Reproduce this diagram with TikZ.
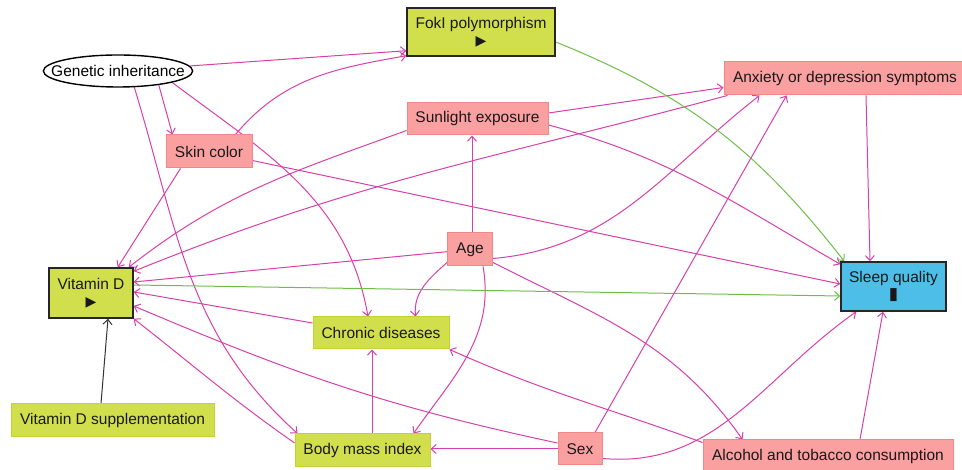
\documentclass[tikz,border=0pt]{standalone}
\usepackage{fontspec}
\setmainfont{Liberation Sans}
\newfontfamily\symfont{DejaVu Sans}
\usetikzlibrary{arrows.meta,shapes.geometric,backgrounds}
\definecolor{gfill}{RGB}{210,223,77}
\definecolor{gdraw}{RGB}{192,210,52}
\definecolor{pfill}{RGB}{250,160,160}
\definecolor{pdraw}{RGB}{242,135,135}
\definecolor{bfill}{RGB}{76,190,232}
\definecolor{mcol}{RGB}{214,64,170}
\definecolor{gcol}{RGB}{110,190,70}
\begin{document}
\begin{tikzpicture}[x=1pt,y=1pt,
 base/.style={rectangle,inner sep=0pt,font=\fontsize{15.5}{18}\selectfont,align=center,text=black!90},
 gbox/.style={base,fill=gfill,draw=gdraw,line width=1pt},
 gboxk/.style={base,fill=gfill,draw=black!85,line width=1.5pt},
 pbox/.style={base,fill=pfill,draw=pdraw,line width=1pt},
 bboxk/.style={base,fill=bfill,draw=black!85,line width=1.5pt},
 tipb/.style={-{Straight Barb[length=5pt,width=9pt]}},
 mline/.style={draw=mcol,line width=1pt,tipb},
 gline/.style={draw=gcol,line width=1pt,tipb},
 kline/.style={draw=black!80,line width=1pt,tipb},
]
\useasboundingbox (0,0) rectangle (962,470);
% nodes
\node[ellipse,draw=black,line width=1.4pt,fill=white,inner xsep=-14pt,inner ysep=0pt,minimum height=32pt,font=\fontsize{15.5}{18}\selectfont] (gen) at (118,399) {Genetic inheritance};
\node[gboxk,minimum width=148pt,minimum height=48pt] (fok) at (481,438) {FokI polymorphism\\[-1pt]{\symfont\fontsize{14}{14}\selectfont ▶}};
\node[pbox,minimum width=86pt,minimum height=33pt] (skin) at (209,318.5) {Skin color};
\node[pbox,minimum width=141pt,minimum height=32pt] (sun) at (477.5,351) {Sunlight exposure};
\node[pbox,minimum width=242pt,minimum height=33pt] (anx) at (845,391.5) {Anxiety or depression symptoms};
\node[pbox,minimum width=45pt,minimum height=33pt] (age) at (470,220.5) {Age};
\node[gboxk,minimum width=84pt,minimum height=50pt] (vitd) at (91,177) {Vitamin D\\[-1pt]{\symfont\fontsize{14}{14}\selectfont ▶}};
\node[bboxk,minimum width=105pt,minimum height=49pt] (sleep) at (893.5,183.5) {Sleep quality\\[-1pt]{\symfont\fontsize{17}{14}\selectfont ▮}};
\node[gbox,minimum width=136pt,minimum height=32pt] (chron) at (381,137) {Chronic diseases};
\node[gbox,minimum width=203pt,minimum height=33pt] (supp) at (112.5,49.5) {Vitamin D supplementation};
\node[gbox,minimum width=135pt,minimum height=33pt] (bmi) at (362.5,19.5) {Body mass index};
\node[pbox,minimum width=44pt,minimum height=32pt] (sex) at (580,21) {Sex};
\node[pbox,minimum width=250pt,minimum height=32pt] (alc) at (828,14) {Alcohol and tobacco consumption};
% edges
\begin{scope}[on background layer]
\draw[mline] (gen) -- ([yshift=6pt]fok.south west);
\draw[mline] ([xshift=-17pt]skin.north east) to[out=50,in=190] ([yshift=1pt]fok.south west);
\draw[mline] (gen.-19) -- ([xshift=7pt]skin.north west);
\draw[mline] (gen.-45) to[out=-73,in=138] ([xshift=3pt]bmi.north west);
\draw[mline] (gen.-12) to[out=-37,in=100] ([xshift=-13pt]chron.north);
\draw[mline] ([xshift=15pt]skin.south west) -- ([xshift=-16pt]vitd.north east);
\draw[mline] (skin) -- ([yshift=2.5pt]sleep.west);
\draw[mline] ([yshift=5pt]sun.south west) to[out=200,in=38] ([xshift=-5pt]vitd.north east);
\draw[mline] ([yshift=6pt]sun.east) -- ([yshift=8pt]anx.south west);
\draw[mline] ([yshift=-6pt]sun.east) to[out=-15,in=150] ([yshift=-3pt]sleep.north west);
\draw[mline] ([xshift=4pt]anx.south west) to[out=195,in=22] ([yshift=-4pt]vitd.north east);
\draw[mline] ([yshift=8pt]age.south east) to[out=5,in=218] ([xshift=36pt]anx.south west);
\draw[mline] ([xshift=2pt]age.north) -- ([xshift=2pt]age.north |- sun.south);
\draw[mline] (age) -- ([yshift=11pt]vitd.east);
\draw[mline] ([yshift=4pt]age.south west) to[out=222,in=95] ([xshift=-34pt]chron.north east);
\draw[mline] ([xshift=13pt]age.south) to[out=-80,in=55] ([xshift=-17pt]bmi.north east);
\draw[mline] ([yshift=4pt]age.south east) to[out=-27,in=125] ([xshift=40pt]alc.north west);
\draw[gline] ([yshift=8pt]vitd.east) -- ([yshift=-9.5pt]sleep.west);
\draw[gline] ([yshift=-10pt]fok.east) to[out=-22,in=128] ([xshift=4pt]sleep.north west);
\draw[mline] ([xshift=21pt]anx.south) -- ([xshift=-23.5pt]sleep.north);
\draw[mline] ([yshift=10pt]chron.west) -- ([yshift=1pt]vitd.east);
\draw[mline] ([xshift=9.5pt]bmi.north) -- ([xshift=9.5pt]bmi.north |- chron.south);
\draw[mline] ([yshift=7.5pt]bmi.west) to[out=145,in=-38] (vitd.south east);
\draw[mline] ([yshift=6pt]sex.west) to[out=168,in=-23] ([yshift=-13pt]vitd.east);
\draw[mline] (sex.west) -- (sex.west -| bmi.east);
\draw[mline] ([yshift=7pt]sex.south east) to[out=-5,in=215] ([xshift=16pt]sleep.south west);
\draw[mline] ([yshift=-3pt]alc.north west) to[out=160,in=-24] (chron.south east);
\draw[mline] ([xshift=32pt]alc.north) -- ([xshift=-10.5pt]sleep.south);
\draw[kline] ([xshift=-11.5pt]supp.north) -- ([xshift=17pt]vitd.south);
\draw[mline] ([xshift=15pt]sex.north) -- ([xshift=63pt]anx.south west);
\end{scope}
\end{tikzpicture}
\end{document}
